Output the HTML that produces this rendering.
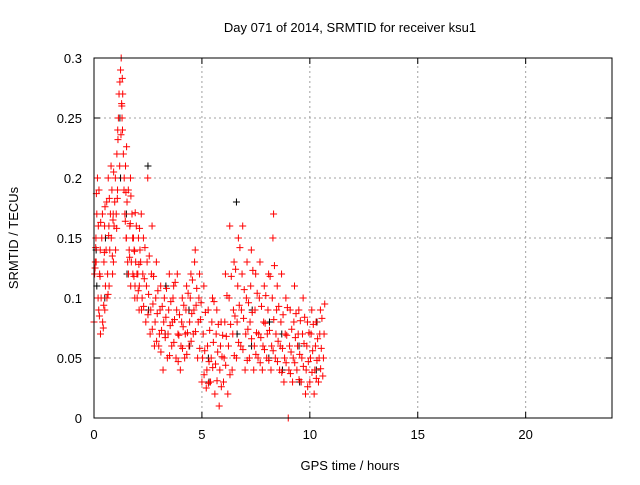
<!DOCTYPE html>
<html><head><meta charset="utf-8"><style>
body{margin:0;background:#fff;font-family:"Liberation Sans",sans-serif;}
svg text{font-family:"Liberation Sans",sans-serif;font-size:13px;fill:#000}
</style></head><body>
<svg id="chart" width="640" height="480" xmlns="http://www.w3.org/2000/svg">
<text x="350" y="32" text-anchor="middle">Day 071 of 2014, SRMTID for receiver ksu1</text>
<text x="350" y="470" text-anchor="middle">GPS time / hours</text>
<text transform="translate(18,238) rotate(-90)" text-anchor="middle">SRMTID / TECUs</text>
<g id="grid"></g>
<g id="ticks"></g>
<g id="black"></g>
<g id="red"></g>
<rect x="94" y="58" width="518" height="360" fill="none" stroke="#000" stroke-width="1"/>
</svg>
<script>
const xTicks=[0,5,10,15,20];
const yTicks=[0,0.05,0.1,0.15,0.2,0.25,0.3];
const yTickLabels=["0","0.05","0.1","0.15","0.2","0.25","0.3"];
const redTimes=[0,0.1,0.2,0.3,0.4,0.5,0.6,0.7,0.8,0.9,1.0,1.1,1.2,1.3,1.4,1.5,1.6,1.7,1.8,1.9,2.0,2.1,2.2,2.4,2.6,2.8,3.0,3.2,3.4,3.6,3.8,4.0,4.2,4.4,4.6,4.8,5.0,5.2,5.4,5.6,5.8,6.0,6.2,6.4,6.6,6.8,7.0,7.2,7.4,7.6,7.8,8.0,8.2,8.4,8.6,8.8,9.0,9.2,9.4,9.6,9.8,10.0,10.2,10.4,10.6];
const redValues=[[.08,.12,.13,.15],[.13,.17,.2,.1,.09],[.16,.19,.12,.14],[.07,.1,.15,.17],[.08,.075,.13,.16],[.09,.11,.14,.18],[.1,.12,.2,.16],[.11,.14,.17,.21],[.15,.19,.12,.17],[.13,.16,.18,.2],[.14,.17,.22,.19],[.24,.25,.27,.21],[.28,.29,.3,.26,.24],[.25,.27,.22,.19],[.2,.17,.21,.15],[.15,.18,.13,.19],[.12,.14,.16,.2],[.11,.13,.17,.15],[.12,.15,.14,.1],[.11,.13,.16,.12],[.1,.12,.15,.09],[.11,.14,.13,.17],[.09,.1,.12,.15],[.08,.11,.13,.2],[.07,.09,.12,.16],[.06,.08,.1,.13],[.06,.07,.09,.11],[.04,.08,.1,.07],[.05,.07,.09,.12],[.06,.08,.1,.11],[.05,.09,.12,.07],[.04,.06,.08,.1],[.05,.07,.09,.11],[.06,.08,.1,.12],[.07,.09,.13,.14],[.05,.08,.1,.12],[.03,.05,.07,.11],[.025,.04,.06,.09],[.03,.05,.08,.1],[.02,.045,.07,.09],[.01,.04,.06,.08],[.03,.05,.08,.12],[.02,.06,.1,.16],[.04,.07,.09,.13],[.05,.08,.11,.15],[.06,.09,.12,.16],[.04,.07,.1,.13],[.05,.08,.11,.14],[.04,.06,.09,.12],[.05,.07,.1,.13],[.04,.06,.08,.11],[.05,.07,.09,.12],[.04,.06,.1,.15,.17],[.05,.07,.09,.11],[.04,.06,.08,.12],[.03,.05,.07,.1],[0,.04,.06,.09],[.03,.05,.08,.11],[.04,.06,.07,.09],[.03,.05,.07,.1],[.02,.04,.06,.08],[.03,.05,.07,.09],[.02,.04,.06,.08],[.03,.05,.07,.09],[.035,.05,.07,.095]];
const redTimes2=[0.05,0.25,0.45,0.65,0.85,1.05,1.25,1.45,1.65,1.85,2.05,2.3,2.5,2.7,2.9,3.1,3.3,3.5,3.7,3.9,4.1,4.3,4.5,4.7,4.9,5.1,5.3,5.5,5.7,5.9,6.1,6.3,6.5,6.7,6.9,7.1,7.3,7.5,7.7,7.9,8.1,8.3,8.5,8.7,8.9,9.1,9.3,9.5,9.7,9.9,10.1,10.3,10.5];
const redValues2=[[.125,.142,.187],[.085,.118,.163],[.094,.138,.176],[.103,.152,.183],[.135,.165,.205],[.158,.183,.232],[.236,.262,.283],[.164,.188,.226],[.134,.162,.185],[.118,.139,.171],[.106,.128,.158],[.093,.116,.142],[.086,.103,.135],[.074,.095,.118],[.064,.087,.106],[.055,.073,.093],[.067,.084,.108],[.052,.077,.097],[.063,.082,.113],[.047,.069,.086],[.058,.076,.094],[.053,.071,.104],[.064,.087,.115],[.072,.094,.108],[.058,.082,.096],[.036,.056,.088],[.029,.047,.073],[.042,.063,.097],[.031,.055,.078],[.026,.051,.069],[.044,.068,.102],[.036,.078,.118],[.052,.085,.124],[.063,.094,.142],[.057,.083,.107],[.048,.074,.096],[.066,.088,.123],[.053,.071,.104],[.046,.067,.093],[.057,.079,.102],[.048,.073,.118],[.056,.082,.127],[.047,.064,.093],[.038,.058,.086],[.046,.069,.092],[.037,.055,.074],[.046,.067,.087],[.032,.053,.081],[.043,.062,.084],[.026,.047,.071],[.038,.056,.078],[.033,.048,.066],[.041,.058,.083]];
const blackTimes=[0.1,0.5,1.2,1.5,2.5,3.3,4.4,5.3,6.6,7.3,8.1,8.7,9.5,10.3];
const blackValues=[[.14,.11],[.1,.15],[.25,.2],[.17,.12],[.21,.09],[.07,.11],[.09,.06],[.05,.03],[.18,.07],[.06,.09],[.05,.08],[.07,.04],[.06,.03],[.04,.08]];
const X0=94,X1=612,Y0=418,Y1=58;
const sx=v=>X0+v/24*(X1-X0);
const sy=v=>Y0-v/0.3*(Y0-Y1);
const NS="http://www.w3.org/2000/svg";
function mk(tag,attrs,parent){const e=document.createElementNS(NS,tag);for(const k in attrs)e.setAttribute(k,attrs[k]);parent.appendChild(e);return e;}
const grid=document.getElementById('grid'),ticks=document.getElementById('ticks');
xTicks.forEach(t=>{const x=sx(t);
 if(t>0){const g=mk('line',{x1:x,x2:x,y1:Y0,y2:Y1,stroke:'#a0a0a0','stroke-dasharray':'2,3'},grid);
 
 }
 const l=mk('text',{x:x,y:Y0+21,'text-anchor':'middle'},ticks);l.textContent=String(t);
 
 
 mk('line',{x1:x,x2:x,y1:Y0,y2:Y0-6,stroke:'#000'},ticks);mk('line',{x1:x,x2:x,y1:Y1,y2:Y1+6,stroke:'#000'},ticks);});
yTicks.forEach((t,i)=>{const y=sy(t);
 if(t>0&&t<0.3){const g=mk('line',{x1:X0,x2:X1,y1:y,y2:y,stroke:'#a0a0a0','stroke-dasharray':'2,3'},grid);
 
 }
 const l=mk('text',{x:X0-12,y:y+5,'text-anchor':'end'},ticks);l.textContent=yTickLabels[i];
 
 
 mk('line',{x1:X0,x2:X0+6,y1:y,y2:y,stroke:'#000'},ticks);mk('line',{x1:X1,x2:X1-6,y1:y,y2:y,stroke:'#000'},ticks);});
function plot(times,vals,gid,color){const g=document.getElementById(gid);
 times.forEach((t,i)=>vals[i].forEach((v,j)=>{const x=sx(t+j*0.03),y=sy(v);
  const p=mk('path',{d:`M${x-3.5},${y}h7M${x},${y-3.5}v7`,stroke:color,'stroke-width':1,fill:'none'},g);
  
  }));}
plot(blackTimes,blackValues,'black','#000');
plot(redTimes,redValues,'red','#f00');
plot(redTimes2,redValues2,'red','#f00');
</script>
</body></html>
